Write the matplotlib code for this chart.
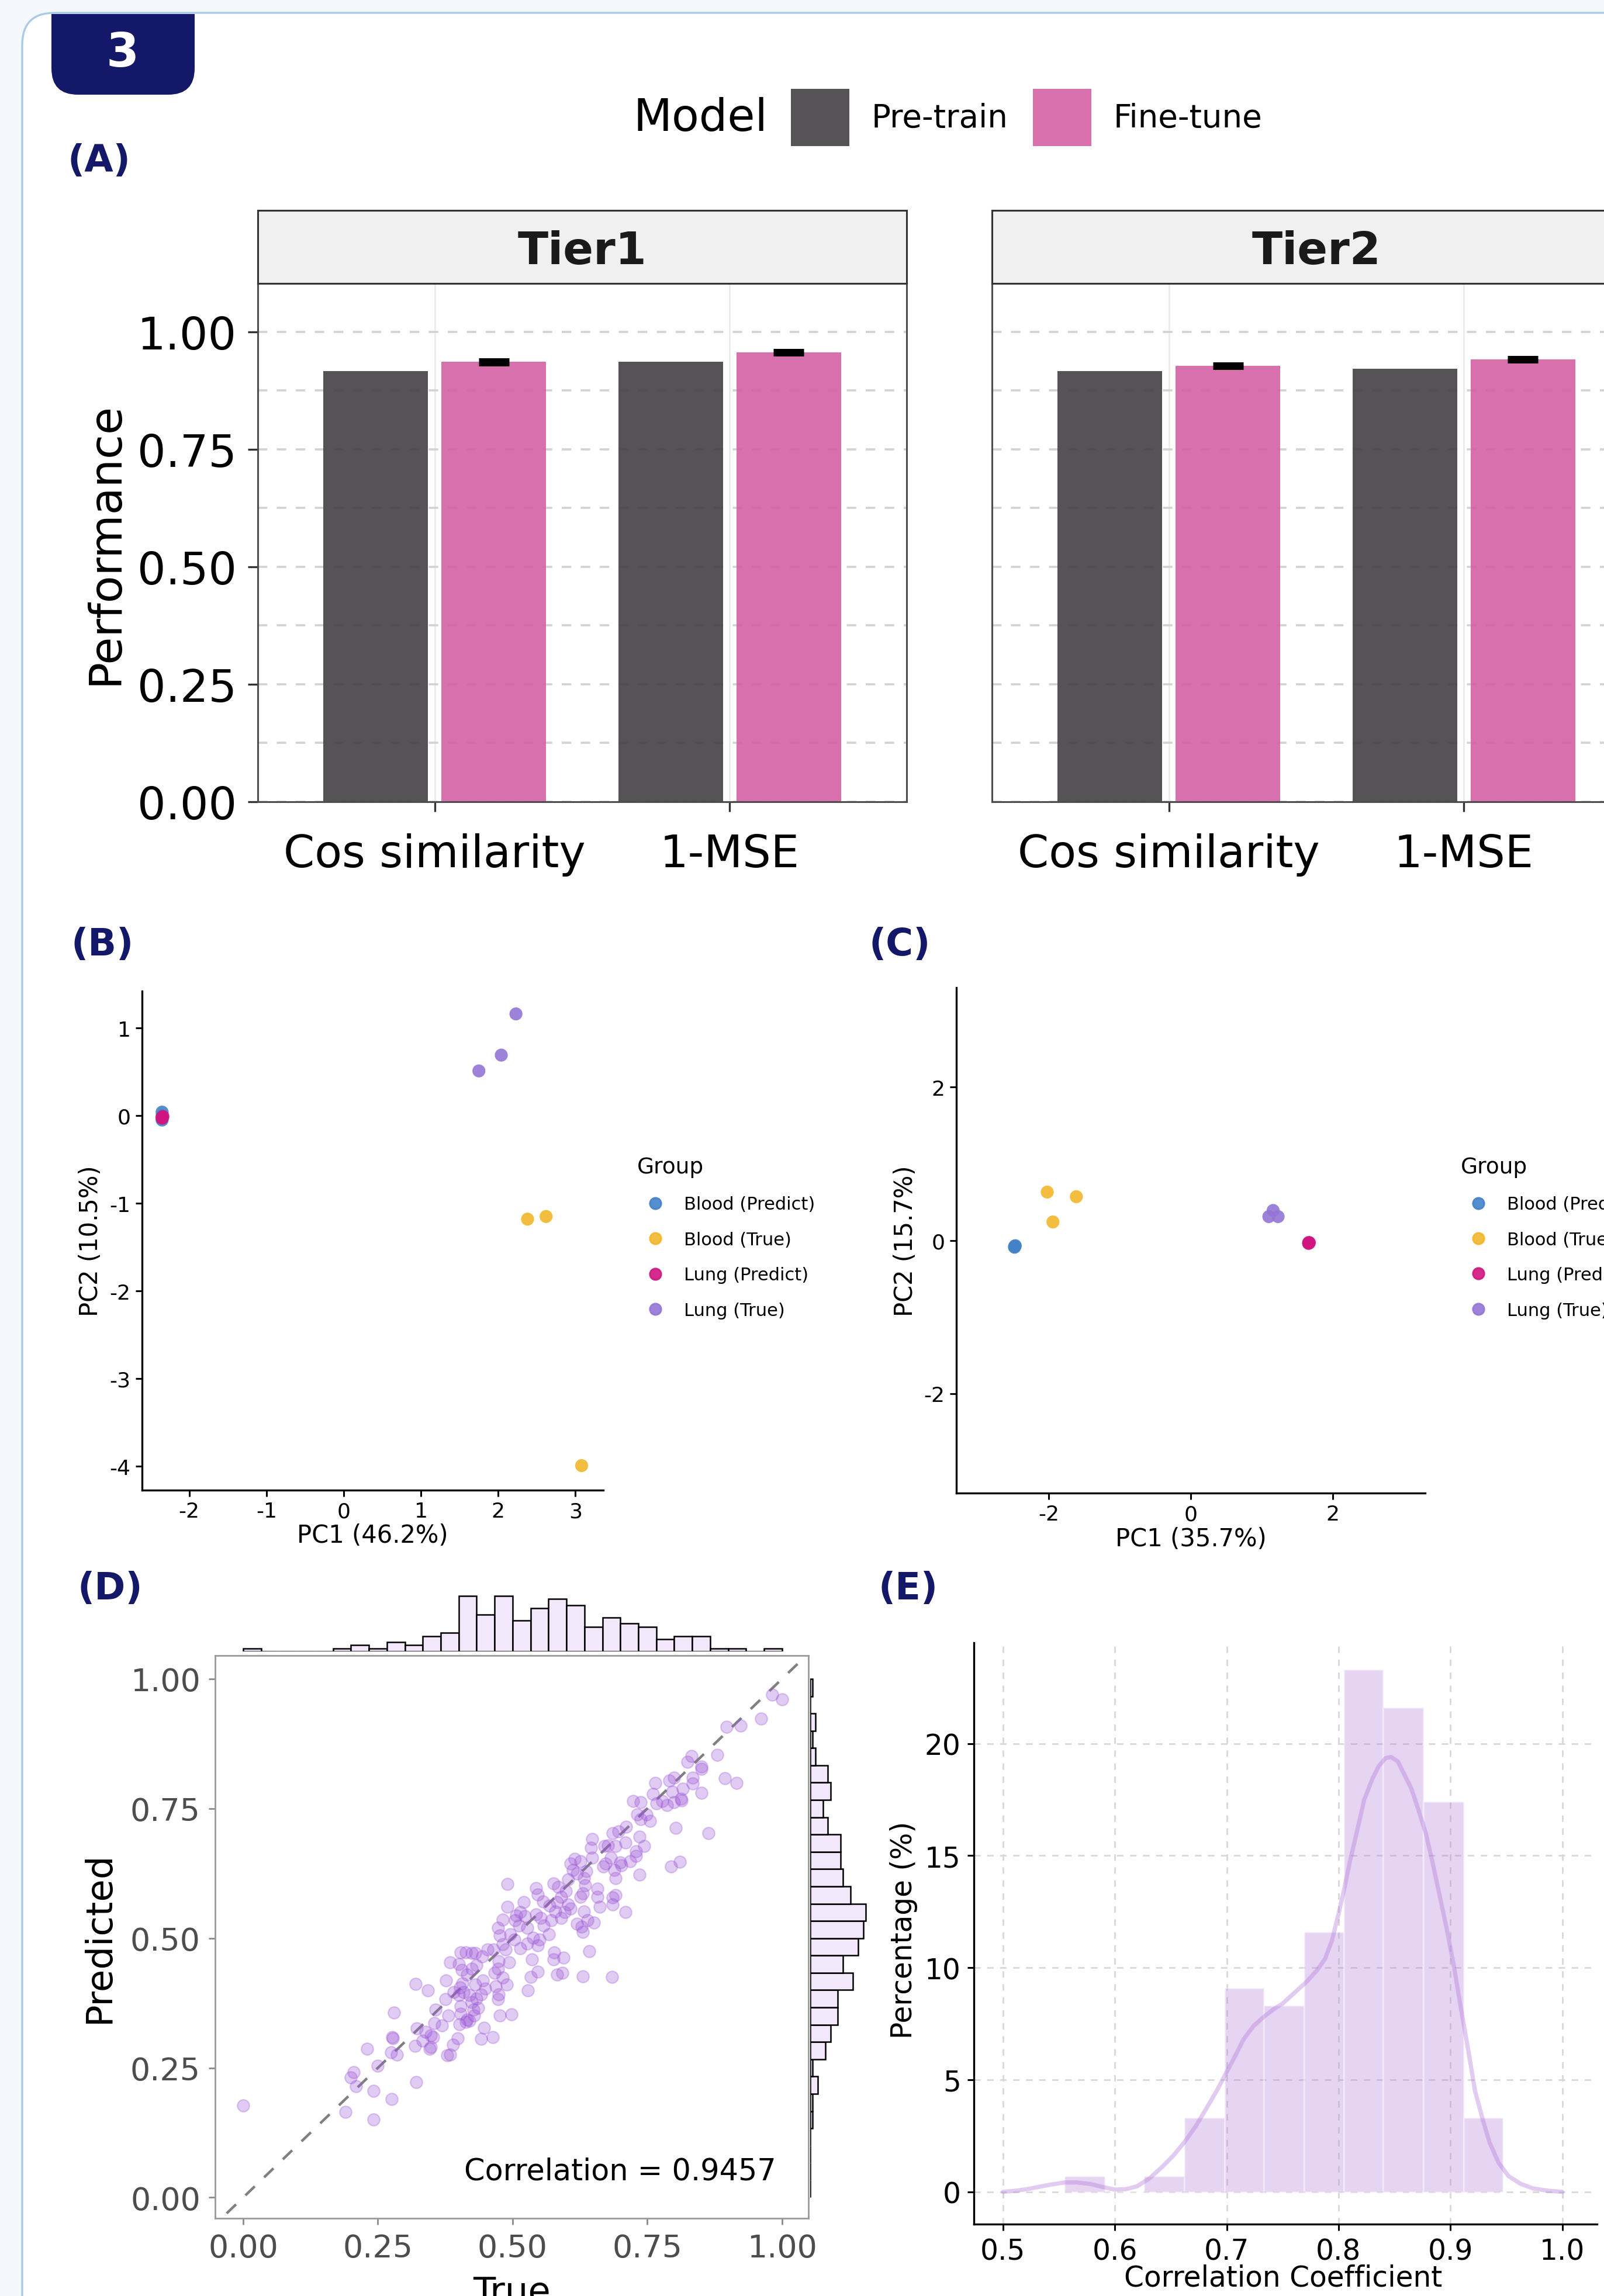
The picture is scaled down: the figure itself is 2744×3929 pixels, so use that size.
import matplotlib
matplotlib.use("Agg")
import matplotlib.pyplot as plt
from matplotlib.patches import Rectangle, FancyBboxPatch
from matplotlib.lines import Line2D
import numpy as np

plt.rcParams['font.family'] = ['DejaVu Sans']
plt.rcParams['axes.unicode_minus'] = False

W, H, DPI = 2744, 3930, 200
NAVY = '#131868'
PRE = '#424042'
FINE = '#d460a4'
LAV = '#b57edc'
FS_A = 27.5

# ---------------- data ----------------
# (A) performance bars
metrics = ['Cos similarity', '1-MSE']
tiers = ['Tier1', 'Tier2']
pretrain_tier1 = [0.917, 0.936]
finetune_tier1 = [0.936, 0.956]
pretrain_tier2 = [0.917, 0.921]
finetune_tier2 = [0.928, 0.941]
fine_err_tier1 = [0.004, 0.004]
fine_err_tier2 = [0.004, 0.004]

# (B), (C) PCA, one list per group
groups = ['Blood (Predict)', 'Blood (True)', 'Lung (Predict)', 'Lung (True)']
group_colors = ['#4482c8', '#f2b62a', '#d0157f', '#9474d6']
b_pc1 = [[-2.35, -2.35, -2.35], [2.38, 2.62, 3.08], [-2.35, -2.35, -2.34], [1.75, 2.04, 2.23]]
b_pc2 = [[0.04, -0.05, 0.0], [-1.18, -1.15, -3.99], [-0.02, -0.03, -0.01], [0.51, 0.69, 1.16]]
c_pc1 = [[-2.48, -2.48, -2.47], [-2.02, -1.61, -1.94], [1.66, 1.66, 1.67], [1.16, 1.10, 1.23]]
c_pc2 = [[-0.08, -0.09, -0.07], [0.63, 0.57, 0.24], [-0.03, -0.04, -0.03], [0.39, 0.31, 0.31]]

# (D) true vs predicted
true_pred = [
    (0.000, 0.177),
    (0.230, 0.287), (0.205, 0.242), (0.200, 0.231), (0.209, 0.215), (0.190, 0.165), (0.242, 0.206),
    (0.242, 0.150), (0.276, 0.190), (0.321, 0.222), (0.250, 0.254), (0.274, 0.280), (0.285, 0.275),
    (0.278, 0.307), (0.277, 0.309), (0.280, 0.357), (0.319, 0.292), (0.322, 0.326), (0.333, 0.302),
    (0.339, 0.319), (0.348, 0.313), (0.353, 0.309), (0.346, 0.287), (0.348, 0.290), (0.357, 0.362),
    (0.355, 0.336), (0.369, 0.332), (0.381, 0.351), (0.379, 0.274), (0.384, 0.275), (0.389, 0.295),
    (0.398, 0.307), (0.401, 0.334), (0.413, 0.339), (0.420, 0.341), (0.320, 0.412), (0.343, 0.399),
    (0.375, 0.383), (0.377, 0.418), (0.384, 0.454), (0.400, 0.450), (0.406, 0.439), (0.404, 0.473),
    (0.413, 0.473), (0.424, 0.471), (0.431, 0.471), (0.391, 0.396), (0.402, 0.405), (0.407, 0.413),
    (0.400, 0.390), (0.404, 0.369), (0.404, 0.354), (0.420, 0.390), (0.424, 0.377), (0.427, 0.362),
    (0.429, 0.351), (0.436, 0.366), (0.416, 0.430), (0.424, 0.441), (0.433, 0.448), (0.433, 0.384),
    (0.442, 0.392), (0.445, 0.418), (0.447, 0.327), (0.442, 0.306), (0.463, 0.309), (0.453, 0.478),
    (0.444, 0.465), (0.449, 0.403), (0.431, 0.411), (0.409, 0.396), (0.416, 0.343),
    (0.490, 0.604), (0.490, 0.560), (0.521, 0.569), (0.473, 0.520), (0.482, 0.536), (0.476, 0.505),
    (0.482, 0.488), (0.487, 0.478), (0.464, 0.478), (0.474, 0.456), (0.494, 0.453), (0.473, 0.441),
    (0.467, 0.433), (0.482, 0.424), (0.489, 0.411), (0.469, 0.407), (0.474, 0.392), (0.473, 0.383),
    (0.476, 0.351), (0.498, 0.353), (0.507, 0.544), (0.514, 0.550), (0.523, 0.542), (0.505, 0.535),
    (0.512, 0.524), (0.527, 0.520), (0.496, 0.508), (0.503, 0.497), (0.514, 0.480), (0.527, 0.490),
    (0.538, 0.501), (0.547, 0.486), (0.550, 0.497), (0.536, 0.459), (0.534, 0.425), (0.547, 0.435),
    (0.528, 0.399), (0.543, 0.597), (0.547, 0.584), (0.556, 0.571), (0.543, 0.546), (0.552, 0.539),
    (0.558, 0.524), (0.567, 0.508), (0.572, 0.535), (0.579, 0.552), (0.568, 0.563), (0.583, 0.569),
    (0.590, 0.580), (0.576, 0.606), (0.585, 0.599), (0.599, 0.591), (0.590, 0.539), (0.597, 0.550),
    (0.603, 0.565), (0.608, 0.557), (0.577, 0.473), (0.576, 0.459), (0.594, 0.463), (0.583, 0.430),
    (0.592, 0.433), (0.630, 0.426), (0.684, 0.425), (0.642, 0.475), (0.619, 0.528), (0.628, 0.522),
    (0.630, 0.512), (0.633, 0.552), (0.639, 0.535), (0.651, 0.530), (0.626, 0.580), (0.630, 0.587),
    (0.635, 0.602), (0.632, 0.616), (0.619, 0.625), (0.612, 0.632), (0.603, 0.614), (0.608, 0.644),
    (0.615, 0.653), (0.626, 0.648), (0.637, 0.629), (0.657, 0.596), (0.657, 0.580), (0.662, 0.561),
    (0.686, 0.578), (0.691, 0.583), (0.686, 0.565), (0.709, 0.550), (0.648, 0.691), (0.646, 0.674),
    (0.648, 0.655), (0.670, 0.678), (0.677, 0.679), (0.686, 0.702), (0.697, 0.706), (0.691, 0.678),
    (0.673, 0.644), (0.668, 0.638), (0.682, 0.655), (0.689, 0.632), (0.691, 0.616), (0.702, 0.640),
    (0.700, 0.646), (0.709, 0.685), (0.711, 0.715), (0.718, 0.648), (0.729, 0.659), (0.729, 0.668),
    (0.735, 0.696), (0.744, 0.678), (0.735, 0.623), (0.731, 0.738), (0.738, 0.730), (0.755, 0.726),
    (0.749, 0.738), (0.724, 0.764), (0.738, 0.762), (0.767, 0.760), (0.787, 0.757), (0.803, 0.713),
    (0.794, 0.638), (0.810, 0.647), (0.778, 0.764), (0.800, 0.762), (0.814, 0.766),
    (0.982, 0.969), (1.000, 0.961), (0.961, 0.923), (0.897, 0.908), (0.923, 0.910), (0.880, 0.854),
    (0.832, 0.851), (0.824, 0.840), (0.850, 0.831), (0.850, 0.826), (0.894, 0.808), (0.916, 0.799),
    (0.834, 0.809), (0.834, 0.798), (0.850, 0.780), (0.816, 0.788), (0.813, 0.769), (0.800, 0.809),
    (0.791, 0.804), (0.765, 0.799), (0.796, 0.783), (0.760, 0.778), (0.864, 0.703),
]
# marginal histograms (30 bins on [0, 1]), counts
true_hist = [1, 0, 0, 0, 0, 1, 2, 1, 3, 2, 5, 6, 18, 12, 18, 10, 14, 17, 15, 8,
             11, 9, 8, 4, 5, 5, 1, 1, 0, 1]
pred_hist = [0, 0, 0, 0, 1, 1, 3, 1, 6, 8, 11, 11, 17, 13, 19, 21, 22, 16, 13, 12,
             12, 7, 5, 8, 7, 2, 1, 2, 0, 1]
hist_edges = np.linspace(0, 1, 31)

# (E) correlation coefficient distribution
corr_edges = [0.555, 0.591, 0.626, 0.662, 0.698, 0.733, 0.769, 0.805, 0.840, 0.876, 0.912, 0.947]
corr_pct = [0.7, 0.0, 0.7, 3.3, 9.1, 8.3, 11.6, 23.3, 21.6, 17.4, 3.3]
kde_x = [0.500, 0.512, 0.525, 0.540, 0.555, 0.566, 0.577, 0.589, 0.600, 0.610, 0.620, 0.631,
         0.642, 0.652, 0.662, 0.672, 0.681, 0.691, 0.700, 0.708, 0.715, 0.724, 0.733, 0.742,
         0.750, 0.761, 0.772, 0.781, 0.788, 0.794, 0.800, 0.805, 0.810, 0.817, 0.823, 0.830,
         0.836, 0.842, 0.847, 0.853, 0.858, 0.865, 0.871, 0.878, 0.884, 0.890, 0.896, 0.903,
         0.909, 0.916, 0.922, 0.929, 0.935, 0.943, 0.952, 0.963, 0.974, 0.987, 1.000]
kde_y = [0.0, 0.05, 0.15, 0.30, 0.42, 0.42, 0.36, 0.22, 0.10, 0.12, 0.25, 0.60,
         1.1, 1.6, 2.2, 2.9, 3.65, 4.5, 5.35, 6.1, 6.8, 7.4, 7.8, 8.15,
         8.4, 8.9, 9.4, 9.9, 10.4, 11.2, 12.4, 13.5, 14.7, 16.2, 17.5, 18.4,
         19.0, 19.35, 19.4, 19.2, 18.7, 18.0, 17.1, 16.0, 14.7, 13.3, 11.9, 10.1,
         8.3, 6.3, 4.5, 3.2, 2.2, 1.3, 0.7, 0.35, 0.15, 0.05, 0.0]


def px_axes(x0, y0, x1, y1, **kw):
    return fig.add_axes([x0 / W, 1 - y1 / H, (x1 - x0) / W, (y1 - y0) / H], **kw)


fig = plt.figure(figsize=(W / DPI, H / DPI), dpi=DPI, facecolor='#f4f7fb')

# card background
bg = fig.add_axes([0, 0, 1, 1], zorder=-10)
bg.set_xlim(0, W)
bg.set_ylim(H, 0)
bg.axis('off')
bg.add_patch(FancyBboxPatch((38, 23), W + 300, H + 300, boxstyle='round,pad=0,rounding_size=55',
                            fc='white', ec='#a9c9e8', lw=1.2))

# ---------------- (A) ----------------
tier_pre = {'Tier1': pretrain_tier1, 'Tier2': pretrain_tier2}
tier_fine = {'Tier1': finetune_tier1, 'Tier2': finetune_tier2}
tier_err = {'Tier1': fine_err_tier1, 'Tier2': fine_err_tier2}
tier_left = {'Tier1': 441, 'Tier2': 1697}
for tier in tiers:
    x0 = tier_left[tier]
    ax = px_axes(x0, 486, x0 + 1110, 1373)
    xc = np.arange(1, len(metrics) + 1)
    for v in xc:
        ax.axvline(v, color='#ebebeb', lw=1.0, zorder=0)
    for yv in np.arange(0, 1.01, 0.125):
        ax.axhline(yv, color='#d2d2d2', lw=1.3, ls=(0, (4.5, 4.5)), zorder=1)
    ax.bar(xc - 0.2, tier_pre[tier], width=0.355, color=PRE, alpha=0.9, zorder=2)
    ax.bar(xc + 0.2, tier_fine[tier], width=0.355, color=FINE, alpha=0.9, zorder=2)
    ax.errorbar(xc + 0.2, tier_fine[tier], yerr=tier_err[tier], fmt='none', ecolor='black',
                elinewidth=2.5, capsize=9.5, capthick=2.5, zorder=4)
    ax.set_xlim(0.4, 2.6)
    ax.set_ylim(0, 1.103)
    ax.set_xticks(xc)
    ax.set_xticklabels(metrics, fontsize=FS_A)
    ax.set_yticks([0, 0.25, 0.5, 0.75, 1.0])
    ax.set_yticklabels(['0.00', '0.25', '0.50', '0.75', '1.00'], fontsize=FS_A)
    ax.tick_params(length=6, width=1.2, color='#333333', pad=7)
    ax.tick_params(axis='x', pad=13)
    for s in ax.spines.values():
        s.set_color('#4d4d4d')
        s.set_linewidth(1.1)
    if tier == 'Tier1':
        ax.set_ylabel('Performance', fontsize=FS_A, va='center')
        ax.yaxis.set_label_coords(-0.235, 0.5)
    else:
        ax.tick_params(axis='y', left=False, labelleft=False)
    strip = px_axes(x0, 361, x0 + 1110, 486)
    strip.set_facecolor('#f0f0f0')
    strip.set_xticks([])
    strip.set_yticks([])
    for s in strip.spines.values():
        s.set_color('#333333')
        s.set_linewidth(1.1)
    strip.text(0.5, 0.44, tier, transform=strip.transAxes, ha='center', va='center',
               fontsize=FS_A, fontweight='bold', color='#1a1a1a')

# ---------------- (B), (C) ----------------
def pca_panel(box, pc1, pc2, xlim, ylim, xticks, yticks, xlabel, ylabel, lab_x, leg_x, leg_y):
    ax = px_axes(*box)
    for g in range(len(groups)):
        ax.scatter(pc1[g], pc2[g], s=64, color=group_colors[g], alpha=0.9, edgecolors='none', zorder=3)
    ax.set_xlim(*xlim)
    ax.set_ylim(*ylim)
    ax.set_xticks(xticks)
    ax.set_yticks(yticks)
    ax.tick_params(labelsize=13, length=4, width=1.1, pad=3)
    for side in ['top', 'right']:
        ax.spines[side].set_visible(False)
    for side in ['left', 'bottom']:
        ax.spines[side].set_linewidth(1.2)
    ax.set_xlabel(xlabel, fontsize=15, va='center')
    ax.xaxis.set_label_coords(0.5, -0.09)
    ax.set_ylabel(ylabel, fontsize=15, va='center')
    ax.yaxis.set_label_coords(lab_x, 0.5)
    handles = [Line2D([], [], marker='o', ls='', color=c, markersize=7, alpha=0.9) for c in group_colors]
    ax.legend(handles, groups, title='Group', loc='upper left', bbox_to_anchor=(leg_x, leg_y),
              frameon=False, fontsize=11, title_fontsize=13.5, alignment='left',
              labelspacing=1.03, handletextpad=0.6)
    return ax


pca_panel((243, 1697, 1032, 2551), b_pc1, b_pc2, (-2.61, 3.36), (-4.27, 1.42),
          [-2, -1, 0, 1, 2, 3], [1, 0, -1, -2, -3, -4], 'PC1 (46.2%)', 'PC2 (10.5%)',
          -0.112, 1.039, 0.701)
pca_panel((1636, 1691, 2438, 2556), c_pc1, c_pc2, (-3.3, 3.3), (-3.3, 3.3),
          [-2, 0, 2], [-2, 0, 2], 'PC1 (35.7%)', 'PC2 (15.7%)',
          -0.108, 1.041, 0.698)

# ---------------- (D) ----------------
true_vals = [p[0] for p in true_pred]
pred_vals = [p[1] for p in true_pred]
axd = px_axes(368, 2834, 1383, 3797)
axd.plot([-0.1, 1.1], [-0.1, 1.1], color='gray', lw=1.6, ls=(0, (5, 5)), zorder=2)
axd.scatter(true_vals, pred_vals, s=55, color='#9b55d6', alpha=0.3, linewidths=0.8, zorder=3)
axd.set_xlim(-0.052, 1.049)
axd.set_ylim(-0.04, 1.045)
ticks_d = [0, 0.25, 0.5, 0.75, 1.0]
axd.set_xticks(ticks_d)
axd.set_yticks(ticks_d)
axd.set_xticklabels(['0.00', '0.25', '0.50', '0.75', '1.00'])
axd.set_yticklabels(['0.00', '0.25', '0.50', '0.75', '1.00'])
axd.tick_params(labelsize=19.4, labelcolor='#4d4d4d', color='#8a8a8a', length=4, width=1, pad=5)
for s in axd.spines.values():
    s.set_color('#9a9a9a')
    s.set_linewidth(1.0)
axd.set_xlabel('True', fontsize=22.5, va='center')
axd.xaxis.set_label_coords(0.5, -0.132)
axd.set_ylabel('Predicted', fontsize=22.5, va='center')
axd.yaxis.set_label_coords(-0.195, 0.5)
axd.text(0.946, 0.084, 'Correlation = 0.9457', transform=axd.transAxes, ha='right', va='center',
         fontsize=18.3)

axt = px_axes(368, 2727, 1383, 2827)
axt.bar(hist_edges[:-1], true_hist, width=np.diff(hist_edges), align='edge',
        color='#f3e8fb', edgecolor='black', linewidth=0.9)
axt.set_xlim(-0.052, 1.049)
axt.set_ylim(0, 18.9)
axt.axis('off')

axr = px_axes(1386, 2834, 1500, 3797)
axr.barh(hist_edges[:-1], pred_hist, height=np.diff(hist_edges), align='edge',
         color='#f3e8fb', edgecolor='black', linewidth=0.9)
axr.set_ylim(-0.04, 1.045)
axr.set_xlim(0, 26.4)
axr.axis('off')

# ---------------- (E) ----------------
axe = px_axes(1666, 2812, 2732, 3807)
axe.grid(True, color='#d8d8d8', ls=(0, (4, 4)), lw=1.0, zorder=0)
axe.set_axisbelow(True)
axe.bar(corr_edges[:-1], corr_pct, width=np.diff(corr_edges), align='edge',
        color=LAV, alpha=0.33, edgecolor='white', linewidth=1.2, zorder=2)
axe.plot(kde_x, kde_y, color=LAV, alpha=0.4, lw=2.6, zorder=3, solid_capstyle='round')
axe.set_xlim(0.474, 1.031)
axe.set_ylim(-1.44, 24.5)
axe.set_xticks([0.5, 0.6, 0.7, 0.8, 0.9, 1.0])
axe.set_yticks([0, 5, 10, 15, 20])
axe.tick_params(labelsize=17.5, length=4, width=1.1, pad=4)
for side in ['top', 'right']:
    axe.spines[side].set_visible(False)
for side in ['left', 'bottom']:
    axe.spines[side].set_linewidth(1.2)
axe.set_xlabel('Correlation Coefficient', fontsize=17.5, va='center')
axe.xaxis.set_label_coords(0.496, -0.092)
axe.set_ylabel('Percentage (%)', fontsize=17.5, va='center')
axe.yaxis.set_label_coords(-0.113, 0.507)

# ---------------- overlay: badge, legend, panel letters ----------------
fg = fig.add_axes([0, 0, 1, 1], zorder=20)
fg.set_xlim(0, W)
fg.set_ylim(H, 0)
fg.axis('off')
fg.add_patch(FancyBboxPatch((88, 25), 245, 138, boxstyle='round,pad=0,rounding_size=45',
                            fc=NAVY, ec='none'))
fg.add_patch(Rectangle((88, 25), 245, 70, fc=NAVY, ec='none'))
fg.text(210, 92, '3', color='white', fontsize=29, fontweight='bold', ha='center', va='center')

fg.text(1198, 203, 'Model', fontsize=FS_A, ha='center', va='center')
fg.add_patch(Rectangle((1353, 153), 100, 98, fc=PRE, alpha=0.9, ec='none'))
fg.text(1491, 203, 'Pre-train', fontsize=19.7, ha='left', va='center')
fg.add_patch(Rectangle((1767, 153), 100, 98, fc=FINE, alpha=0.9, ec='none'))
fg.text(1905, 203, 'Fine-tune', fontsize=19.7, ha='left', va='center')

for lab, x, y in [('(A)', 169, 276), ('(B)', 175, 1617), ('(C)', 1539, 1617),
                  ('(D)', 188, 2719), ('(E)', 1554, 2719)]:
    fg.text(x, y, lab, color=NAVY, fontsize=23, fontweight='bold', ha='center', va='center')

fig.savefig('out.png', dpi=DPI, facecolor=fig.get_facecolor())
